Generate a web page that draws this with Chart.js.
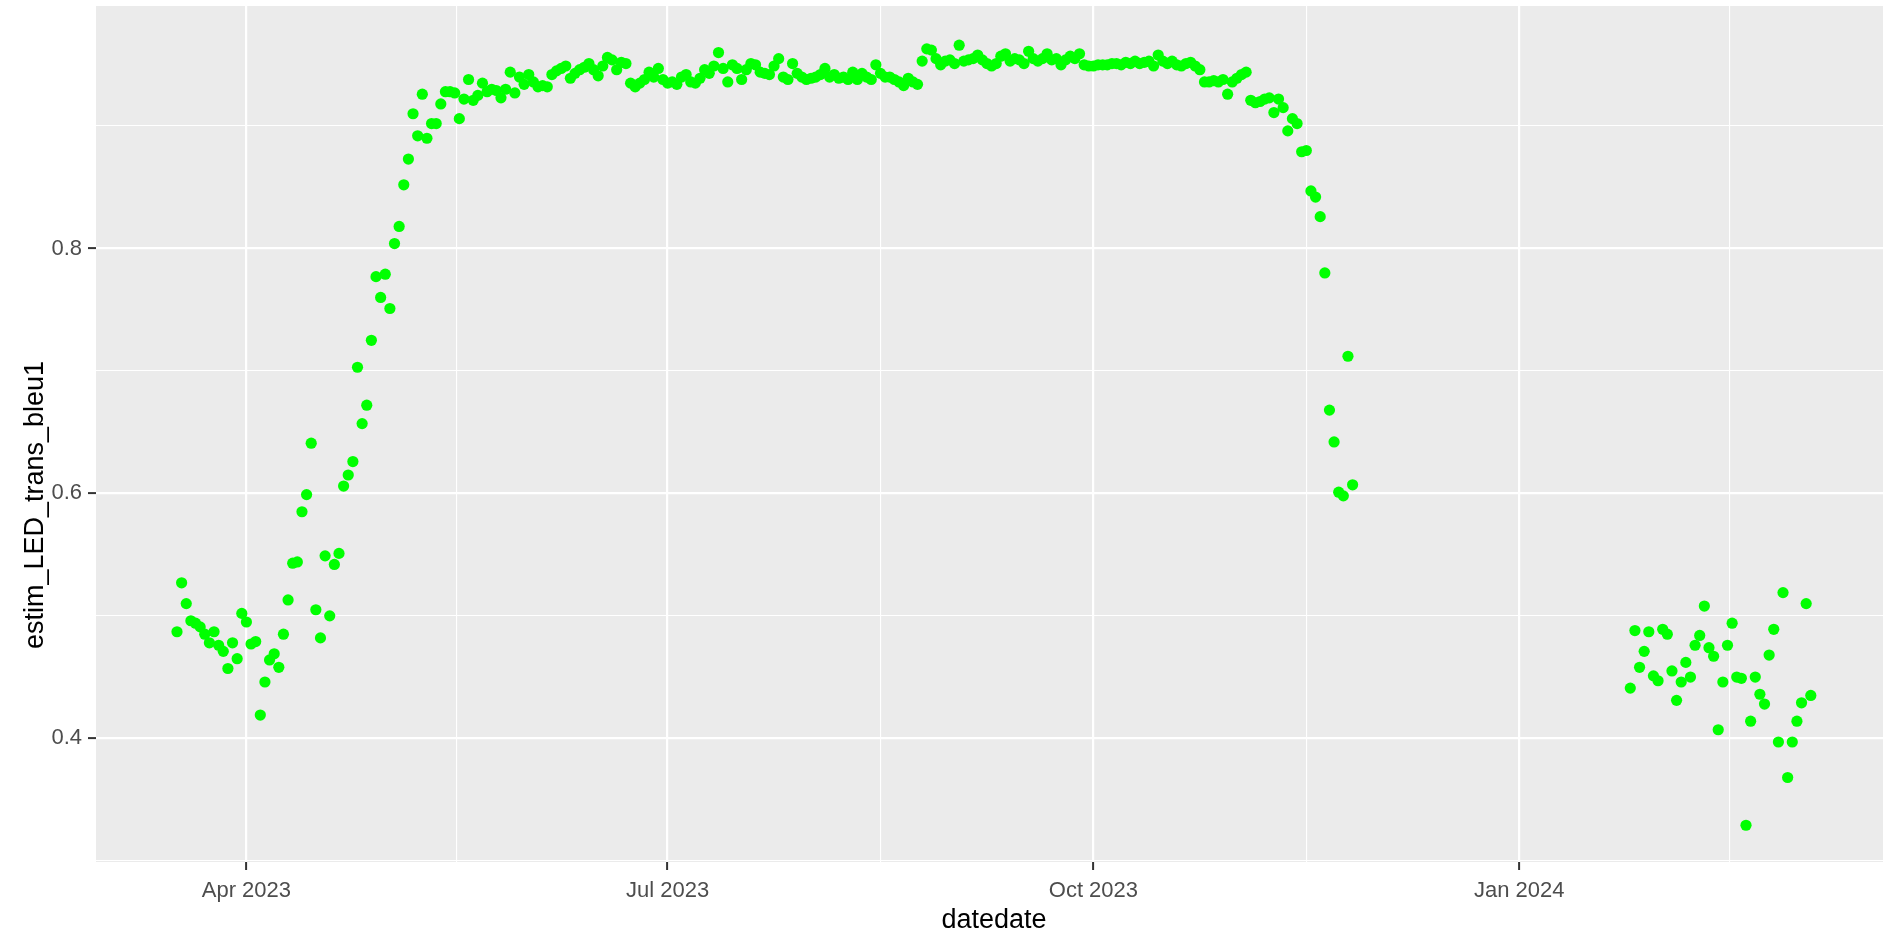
<!DOCTYPE html>
<html>
<head>
<meta charset="utf-8">
<script src="https://cdn.jsdelivr.net/npm/chart.js@4.4.1/dist/chart.umd.min.js"></script>
<style>
  html, body { margin: 0; padding: 0; background: #ffffff; }
  #wrap { width: 1883px; height: 929px; }
</style>
</head>
<body>
<div id="wrap"><canvas id="chart" width="1883" height="929"></canvas></div>
<script>
// Daily estimates, first run (one value per day from the start date)
const firstRunStart = '2023-03-17';
const firstRunValues = [
  0.487, 0.527, 0.510, 0.496, 0.494, 0.491, 0.485, 0.478, 0.487, 0.476,
  0.471, 0.457, 0.478, 0.465, 0.502, 0.495, 0.477, 0.479, 0.419, 0.446,
  0.464, 0.469, 0.458, 0.485, 0.513, 0.543, 0.544, 0.585, 0.599, 0.641,
  0.505, 0.482, 0.549, 0.500, 0.542, 0.551, 0.606, 0.615, 0.626, 0.703,
  0.657, 0.672, 0.725, 0.777, 0.760, 0.779, 0.751, 0.804, 0.818, 0.852,
  0.873, 0.910, 0.892, 0.926, 0.890, 0.902, 0.902, 0.918, 0.928, 0.928,
  0.927, 0.906, 0.922, 0.938, 0.921, 0.925, 0.935, 0.928, 0.930, 0.929,
  0.923, 0.930, 0.944, 0.927, 0.940, 0.934, 0.942, 0.936, 0.932, 0.933,
  0.932, 0.942, 0.945, 0.947, 0.949, 0.939, 0.943, 0.946, 0.948, 0.951,
  0.946, 0.941, 0.949, 0.956, 0.954, 0.946, 0.952, 0.951, 0.935, 0.932,
  0.935, 0.938, 0.944, 0.940, 0.947, 0.938, 0.935, 0.936, 0.934, 0.940,
  0.942, 0.936, 0.935, 0.939, 0.946, 0.943, 0.949, 0.960, 0.947, 0.936,
  0.950, 0.947, 0.938, 0.946, 0.951, 0.950, 0.944, 0.943, 0.942, 0.949,
  0.955, 0.940, 0.938, 0.951, 0.943, 0.940, 0.938, 0.939, 0.940, 0.942,
  0.947, 0.940, 0.942, 0.939, 0.940, 0.938, 0.944, 0.938, 0.943, 0.940,
  0.938, 0.950, 0.943, 0.940, 0.940, 0.938, 0.936, 0.933, 0.939, 0.936,
  0.934, 0.953, 0.963, 0.962, 0.955, 0.950, 0.953, 0.954, 0.951, 0.966,
  0.953, 0.954, 0.955, 0.958, 0.954, 0.951, 0.949, 0.951, 0.957, 0.959,
  0.953, 0.955, 0.954, 0.951, 0.961, 0.955, 0.953, 0.955, 0.959, 0.954,
  0.955, 0.950, 0.954, 0.957, 0.955, 0.959, 0.950, 0.949, 0.949, 0.950,
  0.950, 0.950, 0.951, 0.951, 0.950, 0.952, 0.951, 0.953, 0.951, 0.952,
  0.953, 0.949, 0.958, 0.953, 0.951, 0.953, 0.950, 0.949, 0.951, 0.952,
  0.949, 0.946, 0.936, 0.936, 0.937, 0.936, 0.938, 0.926, 0.936, 0.939,
  0.942, 0.944, 0.921, 0.919, 0.920, 0.922, 0.923, 0.911, 0.922, 0.915,
  0.896, 0.906, 0.902, 0.879, 0.880, 0.847, 0.842, 0.826, 0.780, 0.668,
  0.642, 0.601, 0.598, 0.712, 0.607
];

// Daily estimates, second run
const secondRunStart = '2024-01-25';
const secondRunValues = [
  0.441, 0.488, 0.458, 0.471, 0.487, 0.451, 0.447, 0.489, 0.485, 0.455,
  0.431, 0.446, 0.462, 0.450, 0.476, 0.484, 0.508, 0.474, 0.467, 0.407,
  0.446, 0.476, 0.494, 0.450, 0.449, 0.329, 0.414, 0.450, 0.436, 0.428,
  0.468, 0.489, 0.397, 0.519, 0.368, 0.397, 0.414, 0.429, 0.510, 0.435
];

// Axis breaks and labels
const xBreakDates  = ['2023-01-01', '2023-04-01', '2023-07-01', '2023-10-01', '2024-01-01', '2024-04-01'];
const xBreakLabels = ['Jan 2023', 'Apr 2023', 'Jul 2023', 'Oct 2023', 'Jan 2024', 'Apr 2024'];
const xLimits = ['2023-02-27T12:00:00Z', '2024-03-19T14:24:00Z'];
const yBreaks = [0.4, 0.6, 0.8];
const yMinorBreaks = [0.3, 0.5, 0.7, 0.9];
const yLimits = [0.299, 0.998];

const xTitle = 'datedate';
const yTitle = 'estim_LED_trans_bleu1';

// day number (days since 1970-01-01, UTC)
const dayNum = s => Date.parse(s.length === 10 ? s + 'T00:00:00Z' : s) / 86400000;

const toPoints = (start, values) => values.map((v, i) => ({ x: dayNum(start) + i, y: v }));
const points = toPoints(firstRunStart, firstRunValues).concat(toPoints(secondRunStart, secondRunValues));

const xMin = dayNum(xLimits[0]);
const xMax = dayNum(xLimits[1]);

const xMajorDays = xBreakDates.map(dayNum);
const xTickList = [];
xMajorDays.forEach((d, i) => {
  xTickList.push({ value: d, minor: false, name: xBreakLabels[i] });
  if (i < xMajorDays.length - 1) {
    xTickList.push({ value: (d + xMajorDays[i + 1]) / 2, minor: true, name: '' });
  }
});

const yTickList = yBreaks.map(v => ({ value: v, minor: false, name: v.toFixed(1) }))
  .concat(yMinorBreaks.map(v => ({ value: v, minor: true, name: '' })))
  .sort((a, b) => a.value - b.value);

const fontFamily = '"Liberation Sans", Arial, Helvetica, sans-serif';

// grey panel behind the grid
const panelBackground = {
  id: 'panelBackground',
  beforeDraw(chart) {
    const { ctx, chartArea: a } = chart;
    ctx.save();
    ctx.fillStyle = '#ebebeb';
    ctx.fillRect(a.left, a.top, a.right - a.left, a.bottom - a.top);
    ctx.restore();
  }
};

// axis titles
const axisTitles = {
  id: 'axisTitles',
  afterDraw(chart) {
    const { ctx } = chart;
    ctx.save();
    ctx.fillStyle = '#000000';
    ctx.font = '27px ' + fontFamily;
    ctx.textAlign = 'center';
    ctx.textBaseline = 'alphabetic';
    ctx.fillText(xTitle, 994, 928);
    ctx.translate(43, 505);
    ctx.rotate(-Math.PI / 2);
    ctx.fillText(yTitle, 0, 0);
    ctx.restore();
  }
};

const isMinor = c => !!(c.tick && c.tick.minor);

const gridStyle = {
  color: '#ffffff',
  lineWidth: c => isMinor(c) ? 1.1 : 2.2,
  drawTicks: true,
  tickLength: 8,
  tickWidth: 2,
  tickColor: c => isMinor(c) ? 'rgba(0,0,0,0)' : '#333333'
};

new Chart(document.getElementById('chart'), {
  type: 'scatter',
  data: {
    datasets: [{
      data: points,
      backgroundColor: '#00ff00',
      borderWidth: 0,
      pointRadius: 5.6,
      pointHoverRadius: 5.6
    }]
  },
  options: {
    responsive: false,
    animation: false,
    devicePixelRatio: 1,
    layout: { autoPadding: false, padding: { top: 6, right: 0, bottom: 0, left: 0 } },
    plugins: { legend: { display: false }, tooltip: { enabled: false } },
    scales: {
      x: {
        type: 'linear',
        min: xMin,
        max: xMax,
        afterBuildTicks: s => {
          s.ticks = xTickList.filter(t => t.value >= xMin && t.value <= xMax).map(t => ({ ...t }));
        },
        afterFit: s => {
          s.height = 67;
          s.paddingLeft = 0;
          s.paddingRight = 0;
        },
        grid: gridStyle,
        border: { display: false },
        ticks: {
          autoSkip: false,
          maxRotation: 0,
          minRotation: 0,
          padding: 8,
          color: '#4d4d4d',
          font: { family: fontFamily, size: 22 },
          callback: (v, i, ticks) => ticks[i].name
        },
        title: { display: false }
      },
      y: {
        type: 'linear',
        min: yLimits[0],
        max: yLimits[1],
        afterBuildTicks: s => {
          s.ticks = yTickList.filter(t => t.value >= yLimits[0] && t.value <= yLimits[1]).map(t => ({ ...t }));
        },
        afterFit: s => {
          s.width = 96;
          s.paddingTop = 0;
          s.paddingBottom = 0;
        },
        grid: gridStyle,
        border: { display: false },
        ticks: {
          autoSkip: false,
          padding: 6,
          color: '#4d4d4d',
          font: { family: fontFamily, size: 22 },
          callback: (v, i, ticks) => ticks[i].name
        },
        title: { display: false }
      }
    }
  },
  plugins: [panelBackground, axisTitles]
});
</script>
</body>
</html>
